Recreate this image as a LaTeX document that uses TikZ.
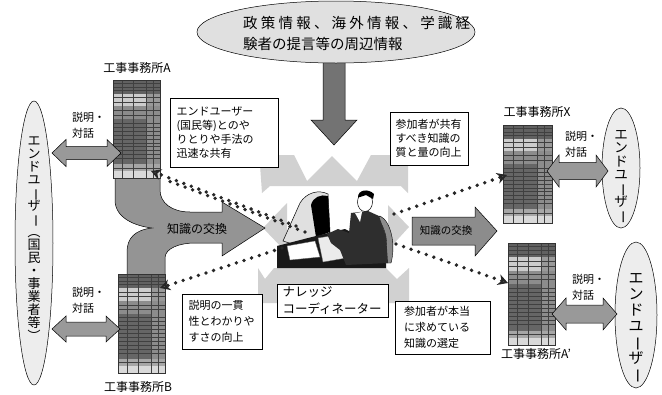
\documentclass[tikz,border=0pt]{standalone}
\usepackage{fontspec}
\usepackage{graphicx}
\setmainfont{Noto Sans CJK JP}
\usetikzlibrary{shapes.geometric,arrows.meta}

\newcommand\vbar{\smash{\rotatebox[origin=c]{-90}{ー}}}
\newcommand\vlp{\smash{\rotatebox[origin=c]{-90}{（}}}
\newcommand\vrp{\smash{\rotatebox[origin=c]{-90}{）}}}

\newcommand\bldg[4]{%
\begin{scope}[shift={(#1,#2)},xscale=#3,yscale=#4]
 \fill[black!62] (0,0) rectangle (1,0.14);
 \fill[black!20] (0,0.14) rectangle (0.7,0.27);
 \fill[black!40] (0.7,0.14) rectangle (1,0.27);
 \fill[black!45] (0,0.27) rectangle (1,0.40);
 \fill[black!60] (0,0.40) rectangle (0.7,0.86);
 \fill[black!45] (0.7,0.40) rectangle (1,0.86);
 \fill[black!35] (0,0.86) rectangle (1,0.93);
 \fill[black!15] (0,0.93) rectangle (1,1);
 \foreach \yy in {0.035,0.07,0.105,0.18,0.225,0.31,0.355,0.44,0.48,0.52,0.56,0.60,0.64,0.68,0.72,0.76,0.80,0.895}
   \draw[black!75,line width=0.35pt] (0,\yy) -- (1,\yy);
 \foreach \xx in {0.2,0.42,0.7,0.85}
   \draw[black!75,line width=0.35pt] (\xx,0) -- (\xx,1);
\end{scope}}

\newcommand\dblarr[6]{%
 \filldraw[dbl] (#1,#3) -- ({#1+#6},{#3-#5}) -- ({#1+#6},{#3-#4}) -- ({#2-#6},{#3-#4}) -- ({#2-#6},{#3-#5}) -- (#2,#3) -- ({#2-#6},{#3+#5}) -- ({#2-#6},{#3+#4}) -- ({#1+#6},{#3+#4}) -- ({#1+#6},{#3+#5}) -- cycle;}

\begin{document}
\begin{tikzpicture}[x=1pt,y=-1pt,
  tbox/.style={draw=black,fill=white,line width=0.6pt,align=left,inner ysep=2pt},
  lbl/.style={font=\fontsize{11}{16}\selectfont,align=left,inner sep=0pt,anchor=west},
  blab/.style={font=\fontsize{12}{14}\selectfont,inner sep=0pt},
  eu/.style={ellipse,draw=black,fill=black!7,line width=0.5pt,inner sep=0pt},
  vtext/.style={align=center,inner sep=0pt},
  dbl/.style={draw=black,fill=black!40,line width=0.5pt},
  dots/.style={draw=black!85,line width=3.8pt,line cap=round,dash pattern=on 0pt off 8pt},
  dtip/.style={-{Stealth[length=10pt,width=11pt,fill=black!60]}},
  lite/.style={fill=black!18},
  bnode/.style={draw=black!80,line width=0.4pt,inner sep=0pt}]

\fill[white] (0,0) rectangle (662,394);
\useasboundingbox (0,0) rectangle (662,394);

% light grey frame around the coordinator
\fill[lite] (260,165) -- (276,155) -- (294,155) -- (307,181) -- (332,156) -- (357,181) -- (371,155) -- (391,155) -- (399,162) -- (408,155) -- (408,193) -- (401,186) -- (270,186) -- (262,193) -- cycle;
\fill[lite] (263,228) -- (287,203) -- (287,253) -- cycle;
\fill[lite] (409,227) -- (388,205) -- (388,250) -- cycle;
\fill[lite] (258,268) -- (265,279) -- (274,268) -- (386,268) -- (397,279) -- (409,268) -- (409,303) -- (258,303) -- cycle;

% top arrow and information ellipse
\filldraw[draw=black,fill=black!55,line width=0.5pt] (323,50) -- (345,50) -- (345,120) -- (357,120) -- (334,145) -- (311,120) -- (323,120) -- cycle;
\node[ellipse,draw=black,fill=black!12,line width=0.5pt,minimum width=278pt,minimum height=62pt,inner sep=0pt] (info) at (336,32) {};
\node[align=left,anchor=west,font=\fontsize{14.5}{21}\selectfont,inner sep=0pt] (infot) at (243,33.5)
 {\makebox[227pt][s]{政\hfil 策\hfil 情\hfil 報\hfil 、\hfil 海\hfil 外\hfil 情\hfil 報\hfil 、\hfil 学\hfil 識\hfil 経}\\験者の提言等の周辺情報};

% upper text boxes
\node[tbox,minimum width=108pt,minimum height=69pt,text width=95pt,inner xsep=6.5pt,font=\fontsize{11}{14}\selectfont] (t1) at (224,132.5) {エンドユーザー\\(国民等)とのや\\りとりや手法の\\迅速な共有};
\node[tbox,minimum width=78pt,minimum height=53pt,text width=67pt,inner xsep=5.5pt,font=\fontsize{11}{14}\selectfont] (t2) at (429,138.5) {参加者が共有\\すべき知識の\\質と量の向上};

% merged curved arrow from offices A and B
\filldraw[draw=black,fill=black!42,line width=0.5pt] (115,176) -- (115,200) .. controls (115,218) and (135,226) .. (152,228) .. controls (135,230) and (127,238) .. (127,252) -- (127,276) -- (165,276) -- (165,258) .. controls (165,248) and (180,243) .. (195,243) -- (222,243) -- (222,256) -- (265,228) -- (222,202) -- (222,212) -- (190,212) .. controls (172,212) and (160,203) .. (160,190) -- (160,176) -- cycle;
\node[font=\fontsize{12}{14}\selectfont,inner sep=0pt] (kx1) at (197,229) {知識の交換};

% offices
\bldg{113}{80}{47}{98}
\node[bnode,minimum width=47pt,minimum height=98pt] (bA) at (136.5,129) {};
\bldg{118}{274}{47}{99}
\node[bnode,minimum width=47pt,minimum height=99pt] (bB) at (141.5,323.5) {};
\bldg{503}{125}{49}{98}
\node[bnode,minimum width=49pt,minimum height=98pt] (bX) at (527.5,174) {};
\bldg{508}{243}{47}{102}
\node[bnode,minimum width=47pt,minimum height=102pt] (bAp) at (531.5,294) {};
\node[blab] (lA) at (137,68) {工事事務所A};
\node[blab] (lB) at (138,387) {工事事務所B};
\node[blab] (lX) at (537,112) {工事事務所X};
\node[blab] (lAp) at (536,354) {工事事務所A'};

% knowledge coordinator figure
\filldraw[fill=black!12,draw=black,line width=0.5pt] (283,241) -- (300,203) .. controls (306,193) and (318,189) .. (328,194) -- (330,232) -- (312,250) -- cycle;
\fill[black] (311,205) .. controls (313,197) and (321,194) .. (328,196) -- (330,232) -- (316,237) -- cycle;
\fill[black!90] (277,246) -- (312,237) -- (345,229) -- (386,250) -- (386,268) -- (277,268) -- cycle;
\filldraw[fill=white,draw=black!60,line width=0.3pt] (287,246) -- (315,241) -- (320,257) -- (290,260) -- cycle;
\filldraw[fill=black!8,draw=black!60,line width=0.3pt] (318,238) -- (343,234) -- (346,258) -- (323,262) -- cycle;
\filldraw[fill=black!45,draw=black,line width=0.4pt] (380,216) .. controls (391,221) and (396,245) .. (391,263) -- (385,263) .. controls (389,245) and (386,226) .. (377,219) -- cycle;
\fill[black!82] (351,213) -- (368,211) -- (379,216) -- (386,236) -- (388,263) -- (346,265) -- (340,250) -- (331,243) -- (327,234) -- (338,229) -- (349,233) -- cycle;
\fill[white] (355,213) -- (362,212) -- (360,222) -- cycle;
\filldraw[fill=white,draw=black,line width=0.5pt] (365,202) ellipse [x radius=7.5, y radius=9.5];
\fill[black] (358,197) .. controls (358,190) and (368,188) .. (374,194) -- (373,199) -- (366,195) -- (360,197) -- cycle;

% dotted connectors
\coordinate (kcA1) at (296,226);
\coordinate (kcA2) at (305,232);
\coordinate (kcB) at (282,248);
\coordinate (kcX) at (394,214);
\coordinate (kcAp) at (396,244);
\coordinate (eA1) at (151,171);
\coordinate (eA2) at (166,180);
\coordinate (eB) at (160,288);
\coordinate (eX) at (507,175);
\coordinate (eAp) at (508,283);
\draw[dots,dtip] (kcA1) -- (eA1);
\draw[dots] (kcA2) -- (eA2);
\draw[dots,dtip] (kcB) -- (eB);
\draw[dots,dtip] (kcX) -- (eX);
\draw[dots,dtip] (kcAp) -- (eAp);

% right knowledge exchange arrow
\filldraw[draw=black,fill=black!45,line width=0.5pt] (412,217) -- (475,217) -- (475,207) -- (497,231) -- (475,256) -- (475,245) -- (412,245) -- cycle;
\node[font=\fontsize{10.5}{12}\selectfont,inner sep=0pt] (kx2) at (446,231) {知識の交換};

% end users
\node[eu,minimum width=38pt,minimum height=284pt] (euL) at (34,243) {};
\node[vtext,font=\fontsize{13}{13}\selectfont] (euLt) at (34,239) {エ\\ン\\ド\\ユ\\\vbar\\ザ\\\vbar\\\vlp\\国\\民\\・\\事\\業\\者\\等\\\vrp};
\node[eu,minimum width=38pt,minimum height=120pt] (euX) at (621,168) {};
\node[vtext,font=\fontsize{13.5}{13.5}\selectfont] (euXt) at (621,175) {エ\\ン\\ド\\ユ\\\vbar\\ザ\\\vbar};
\node[eu,minimum width=42pt,minimum height=146pt] (euAp) at (636,315) {};
\node[vtext,font=\fontsize{15}{16}\selectfont] (euApt) at (636,326) {エ\\ン\\ド\\ユ\\\vbar\\ザ\\\vbar};

% dialogue double arrows
\dblarr{52}{121}{153}{6.5}{13.5}{14}
\dblarr{52}{120}{329}{7}{13}{14}
\dblarr{547}{608}{171}{8.5}{16}{12}
\dblarr{552}{617}{314}{9}{16}{14}
\node[lbl] (d1) at (72,125) {説明・\\対話};
\node[lbl] (d2) at (72,300.5) {説明・\\対話};
\node[lbl] (d3) at (565,144.5) {説明・\\対話};
\node[lbl] (d4) at (572,287.5) {説明・\\対話};

% lower text boxes
\node[tbox,minimum width=111pt,minimum height=33pt,text width=100pt,inner xsep=5.5pt,inner ysep=1pt,font=\fontsize{12.5}{16.5}\selectfont] (kcbox) at (332.5,300.5) {ナレッジ\\コーディネーター};
\node[tbox,minimum width=80pt,minimum height=55pt,text width=67pt,inner xsep=6.5pt,font=\fontsize{11}{16}\selectfont] (t3) at (222,321.5) {説明の一貫\\性とわかりや\\すさの向上};
\node[tbox,minimum width=95pt,minimum height=53pt,text width=77pt,inner xsep=9pt,font=\fontsize{11}{16}\selectfont] (t4) at (442.5,327.5) {参加者が本当\\に求めている\\知識の選定};
\end{tikzpicture}
\end{document}
